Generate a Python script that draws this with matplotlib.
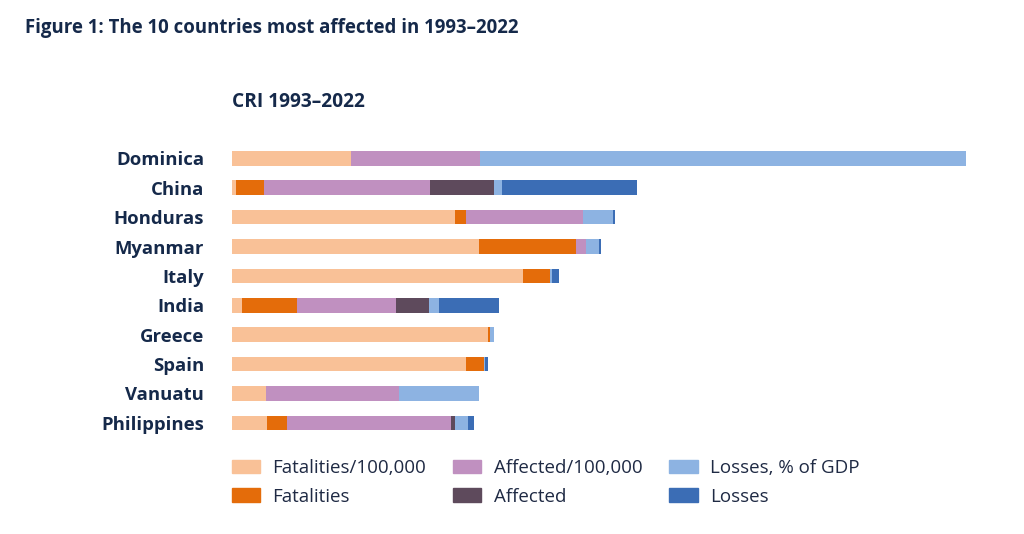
import matplotlib.pyplot as plt
from matplotlib.patches import Patch

plt.rcParams['font.family'] = ['Open Sans', 'DejaVu Sans']

countries = ['Dominica', 'China', 'Honduras', 'Myanmar', 'Italy',
             'India', 'Greece', 'Spain', 'Vanuatu', 'Philippines']

# segment widths (arbitrary score units)
fat_rel = [119, 4, 223, 247, 291, 10, 256, 234, 34, 35]
fat_abs = [0, 28, 11, 97, 27, 55, 2, 18, 0, 20]
aff_rel = [129, 166, 117, 10, 0, 99, 0, 0, 133, 164]
aff_abs = [0, 64, 0, 0, 0, 33, 0, 0, 0, 4]
loss_gdp = [486, 8, 30, 13, 2, 10, 4, 1, 80, 13]
loss_abs = [0, 135, 2, 2, 7, 60, 0, 3, 0, 6]

series = [fat_rel, fat_abs, aff_rel, aff_abs, loss_gdp, loss_abs]
labels = ['Fatalities/100,000', 'Fatalities', 'Affected/100,000',
          'Affected', 'Losses, % of GDP', 'Losses']
colors = ['#F9C197', '#E46C0A', '#C090C0', '#5E4A5C', '#8DB3E2', '#3B6DB5']

navy = '#15294A'

fig = plt.figure(figsize=(10.24, 5.34), dpi=100)
ax = fig.add_axes([232 / 1024, 1 - 437.6 / 534, 740 / 1024, 294 / 534])

y = list(range(len(countries)))
left = [0] * len(countries)
for vals, lab, col in zip(series, labels, colors):
    ax.barh(y, vals, left=left, height=0.5, color=col, label=lab)
    left = [a + b for a, b in zip(left, vals)]

ax.set_xlim(0, 740)
ax.set_ylim(9.5, -0.5)
ax.set_yticks(y)
ax.set_yticklabels(countries, fontsize=13.3, fontweight='bold', color=navy)
ax.tick_params(axis='y', length=0, pad=20)
ax.set_xticks([])
for s in ax.spines.values():
    s.set_visible(False)

fig.text(25 / 1024, 1 - 28 / 534, 'Figure 1: The 10 countries most affected in 1993–2022',
         fontsize=13.4, fontweight='bold', color=navy, va='center', ha='left')
fig.text(232 / 1024, 1 - 102 / 534, 'CRI 1993–2022',
         fontsize=13.8, fontweight='bold', color=navy, va='center', ha='left')

handles = [Patch(color=c, label=l) for c, l in zip(colors, labels)]
fig.legend(handles=handles, loc='upper left', ncol=3, frameon=False,
           bbox_to_anchor=(232 / 1024, 1 - 459 / 534), fontsize=13.5,
           borderpad=0, borderaxespad=0,
           handlelength=1.5, handleheight=0.75, handletextpad=0.65,
           columnspacing=1.45, labelspacing=0.57, labelcolor='#1f2a44')

fig.savefig('out.png', dpi=100, facecolor='white')
